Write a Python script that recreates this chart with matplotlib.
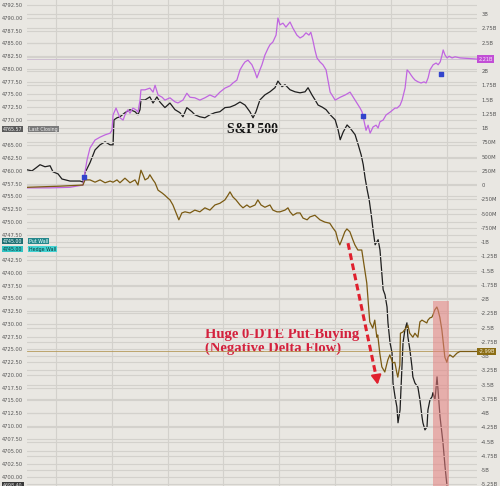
import matplotlib.pyplot as plt
from matplotlib.patches import Rectangle
from matplotlib.ticker import FuncFormatter, MultipleLocator

# time axis: minutes after 9:00 (grid every 30 min)
spx_t = [14.3, 17.0, 19.2, 21.3, 24.0, 26.7, 28.3, 31.0, 33.1, 35.3, 37.4, 40.1, 42.8, 44.4,
         45.5, 48.2, 50.9, 53.6, 56.3, 59.0, 60.6, 61.1, 62.7, 64.3, 67.0, 69.7, 72.4, 74.0,
         75.1, 75.6, 77.8, 80.4, 82.1, 84.2, 85.8, 88.5, 91.2, 93.9, 96.6, 98.2, 100.3, 103.0,
         104.6, 107.3, 110.0, 112.7, 115.4, 118.1, 120.8, 123.5, 126.2, 128.9, 131.6, 134.2,
         135.9, 137.5, 139.6, 142.3, 145.0, 147.7, 149.3, 151.5, 153.1, 155.8, 158.5, 161.2,
         163.9, 165.5, 167.6, 169.3, 170.9, 173.1, 175.2, 177.4, 180.1, 181.7, 182.8, 184.4,
         186.5, 188.1, 190.8, 192.5, 194.1, 195.2, 196.2, 197.3, 198.4, 199.5, 200.5, 201.6,
         203.2, 204.2, 205.3, 205.9, 206.9, 208.0, 208.5, 209.6, 210.7, 211.2, 212.3, 213.3,
         213.9, 215.0, 216.0, 216.6, 217.6, 218.7, 219.2, 220.3, 221.4, 221.9, 223.0, 224.6,
         225.7, 226.8, 227.3, 228.4, 229.5, 230.0, 231.1, 232.2, 232.7, 233.8, 234.9, 235.4,
         236.5, 238.1, 239.2, 240.2]
spx = [4760.2, 4760.0, 4760.6, 4761.2, 4760.8, 4761.0, 4759.8, 4759.4, 4758.4, 4758.2, 4758.0,
       4758.0, 4758.0, 4757.8, 4759.6, 4761.6, 4764.1, 4765.1, 4765.7, 4765.1, 4765.1, 4770.0,
       4770.4, 4770.6, 4771.4, 4772.0, 4771.6, 4771.0, 4772.0, 4773.9, 4773.9, 4774.5, 4773.3,
       4774.5, 4773.5, 4772.4, 4773.3, 4772.0, 4771.4, 4770.6, 4772.4, 4771.6, 4771.0, 4770.6,
       4770.4, 4771.0, 4771.4, 4771.6, 4772.4, 4772.5, 4772.9, 4773.5, 4772.9, 4771.6, 4770.4,
       4771.6, 4773.9, 4774.9, 4775.5, 4776.3, 4777.6, 4776.5, 4776.9, 4775.9, 4775.5, 4775.3,
       4775.5, 4776.3, 4774.9, 4773.9, 4772.9, 4772.5, 4772.0, 4771.0, 4770.0, 4768.0, 4766.1,
       4767.6, 4769.0, 4768.4, 4767.1, 4765.1, 4763.1, 4761.2, 4758.6, 4756.3, 4754.3, 4751.4,
       4748.4, 4745.5, 4746.5, 4744.5, 4739.6, 4736.7, 4735.7, 4733.3, 4730.2, 4726.3, 4724.3,
       4718.4, 4715.7, 4713.7, 4710.6, 4713.1, 4721.6, 4726.3, 4728.8, 4730.2, 4727.5, 4724.9,
       4721.6, 4719.6, 4718.4, 4717.6, 4715.1, 4711.8, 4710.6, 4709.2, 4709.8, 4713.1, 4715.1,
       4715.7, 4716.5, 4715.1, 4719.6, 4717.1, 4711.8, 4706.7, 4702.0, 4698.4]

# call-side flow (purple), billions
call_t = [14.3, 26.7, 37.4, 44.4, 45.5, 46.6, 48.2, 50.9, 53.6, 56.3, 59.0, 60.0, 60.6, 62.2,
          64.3, 66.0, 67.0, 68.6, 69.7, 71.3, 72.9, 74.0, 75.1, 75.6, 77.8, 80.4, 82.1, 83.2,
          84.8, 87.0, 88.5, 91.2, 93.9, 95.5, 98.2, 100.3, 102.0, 104.6, 107.3, 110.0, 112.7,
          115.4, 118.1, 120.8, 123.5, 125.1, 127.2, 128.9, 130.5, 131.6, 133.2, 135.3, 137.0,
          138.0, 139.6, 140.7, 142.3, 144.0, 145.0, 146.6, 148.3, 149.3, 150.4, 152.0, 153.6,
          155.8, 157.4, 159.5, 161.2, 162.8, 164.4, 166.0, 167.0, 168.1, 169.2, 170.3, 171.9,
          173.5, 175.2, 176.2, 177.4, 180.1, 182.8, 185.5, 188.1, 190.8, 193.5, 194.6, 195.7,
          196.7, 197.8, 198.9, 200.5, 202.1, 203.2, 204.2, 205.9, 207.5, 209.7, 211.2, 212.3,
          213.4, 215.0, 216.1, 217.7, 218.8, 219.9, 220.9, 222.0, 223.1, 224.7, 226.3, 227.9,
          229.0, 230.1, 231.1, 232.8, 234.4, 235.5, 236.6, 237.6, 238.2, 239.2, 240.3, 241.4,
          243.0, 244.6, 247.3, 256.4]
calls = [-0.05, -0.05, -0.04, 0.0, 0.23, 0.44, 0.65, 0.79, 0.84, 0.88, 0.91, 0.96, 1.23, 1.35,
         1.18, 1.14, 1.23, 1.32, 1.26, 1.35, 1.32, 1.28, 1.49, 1.67, 1.67, 1.70, 1.63, 1.75,
         1.58, 1.54, 1.49, 1.53, 1.46, 1.44, 1.49, 1.61, 1.54, 1.53, 1.49, 1.53, 1.58, 1.54,
         1.63, 1.70, 1.74, 1.79, 1.84, 2.02, 2.11, 2.16, 2.19, 2.11, 1.98, 1.88, 2.02, 2.11,
         2.28, 2.40, 2.46, 2.51, 2.63, 2.93, 2.81, 2.84, 2.77, 2.86, 2.75, 2.63, 2.58, 2.61,
         2.67, 2.63, 2.68, 2.54, 2.37, 2.23, 2.16, 2.11, 2.02, 1.84, 1.63, 1.49, 1.54, 1.58,
         1.63, 1.49, 1.35, 1.28, 1.11, 0.96, 1.05, 0.91, 1.02, 1.05, 1.00, 1.11, 1.14, 1.23,
         1.28, 1.32, 1.35, 1.35, 1.40, 1.49, 1.70, 2.02, 1.98, 1.93, 1.88, 1.84, 1.81, 1.79,
         1.81, 1.79, 1.88, 2.02, 2.11, 2.14, 2.11, 2.16, 2.28, 2.37, 2.28, 2.23, 2.26, 2.23,
         2.25, 2.23, 2.21]

# net delta flow (brown), billions
delta_t = [14.3, 32.1, 44.4, 45.5, 48.2, 50.9, 53.6, 56.3, 59.0, 60.6, 62.7, 64.3, 67.0, 69.7,
           72.4, 74.0, 75.6, 76.7, 77.8, 79.4, 80.4, 82.1, 83.2, 84.8, 87.0, 88.5, 90.1, 91.2,
           92.8, 93.9, 95.0, 96.0, 97.6, 99.3, 102.0, 104.6, 107.3, 110.0, 112.7, 115.4, 118.1,
           120.8, 122.4, 123.5, 125.1, 126.7, 128.9, 130.5, 132.6, 134.2, 137.0, 138.5, 140.2,
           142.3, 145.0, 146.6, 148.8, 150.4, 153.1, 154.7, 155.8, 157.4, 159.5, 161.2, 162.8,
           165.0, 166.5, 169.2, 171.9, 174.5, 177.2, 178.8, 180.4, 181.5, 182.6, 183.7, 185.3,
           186.4, 188.0, 189.6, 190.7, 192.3, 194.4, 196.0, 197.1, 198.7, 200.3, 201.4, 202.5,
           203.0, 204.1, 205.2, 206.8, 208.4, 209.5, 211.1, 212.2, 213.3, 213.8, 214.9, 215.2,
           216.5, 218.6, 219.2, 220.2, 221.9, 223.0, 224.6, 225.7, 226.8, 228.4, 229.4, 230.0,
           231.1, 232.1, 232.7, 233.7, 234.8, 235.4, 236.4, 237.5, 238.1, 239.1, 240.2, 240.8,
           241.8, 243.5, 245.6, 247.2, 256.4]
delta = [-0.04, -0.02, 0.0, 0.09, 0.09, 0.05, 0.09, 0.04, 0.07, 0.05, 0.09, 0.04, 0.12, 0.04,
         0.09, 0.0, 0.26, 0.18, 0.09, 0.12, 0.18, 0.09, 0.04, -0.09, -0.14, -0.18, -0.23, -0.26,
         -0.35, -0.44, -0.53, -0.61, -0.49, -0.47, -0.49, -0.44, -0.47, -0.40, -0.44, -0.35,
         -0.32, -0.26, -0.18, -0.12, -0.21, -0.26, -0.35, -0.40, -0.35, -0.39, -0.35, -0.26,
         -0.35, -0.39, -0.35, -0.44, -0.47, -0.47, -0.44, -0.40, -0.47, -0.53, -0.49, -0.49,
         -0.58, -0.61, -0.56, -0.53, -0.61, -0.65, -0.67, -0.75, -0.82, -0.96, -1.05, -0.96,
         -0.82, -0.77, -0.82, -0.96, -1.05, -1.14, -1.14, -1.49, -1.72, -2.40, -2.51, -2.37,
         -2.67, -2.63, -2.95, -3.19, -3.28, -3.07, -2.98, -3.12, -3.11, -3.30, -3.37, -3.16,
         -2.60, -2.58, -2.49, -2.46, -2.60, -2.67, -2.60, -2.67, -2.40, -2.37, -2.40, -2.42,
         -2.37, -2.33, -2.32, -2.28, -2.19, -2.14, -2.19, -2.32, -2.54, -2.72, -3.02, -3.11,
         -3.02, -2.98, -3.02, -2.95, -2.92, -2.92]
delta_last = -2.99

# blue event markers on the call line
event_t = [44.9, 195.1, 237.1]
event_v = [0.14, 1.21, 1.95]

last_close = 4765.57
put_wall = 4745.00
hedge_wall = 4745.00
span_t = (232.7, 241.4)
span_top = -2.04

bg = '#e9e7e2'
grid_c = '#d3d1cc'
Y2 = (-5.28, 3.246)

fig = plt.figure(figsize=(5.0, 4.86), dpi=100, facecolor=bg)
ax = fig.add_axes([0.054, 0.0, 0.9, 1.0], facecolor=bg)
ax2 = ax.twinx()

ax.set_xlim(14.3, 256.4)
ax.set_ylim(4698.2, 4793.5)
ax2.set_ylim(*Y2)

ax.xaxis.set_major_locator(MultipleLocator(30))
ax.yaxis.set_major_locator(MultipleLocator(2.5))
ax2.yaxis.set_major_locator(MultipleLocator(0.25))
ax.grid(True, color=grid_c, lw=0.8)
ax2.grid(True, axis='y', color=grid_c, lw=0.8)
ax.set_xticklabels([])
ax.tick_params(axis='x', length=0)
ax.tick_params(axis='y', length=0, pad=3, labelsize=3.7, labelcolor='#555555')
ax2.tick_params(axis='y', length=0, pad=3, labelsize=3.8, labelcolor='#555555')


def fmt_px(v, p):
    # tick labels hidden under the price tags
    if abs(v - 4745) < 0.01 or abs(v - 4767.5) < 0.01:
        return ''
    return '%.2f' % v


def fmt_bn(v, p):
    if abs(v - 2.25) < 1e-6:
        return ''
    if abs(v) < 1e-9:
        return '0'
    if abs(v) < 1:
        return '%dM' % round(v * 1000)
    return ('%.2f' % v).rstrip('0').rstrip('.') + 'B'


ax.yaxis.set_major_formatter(FuncFormatter(fmt_px))
ax2.yaxis.set_major_formatter(FuncFormatter(fmt_bn))
for a in (ax, ax2):
    for s in a.spines.values():
        s.set_visible(False)

ax.plot(spx_t, spx, color='#1e1e1e', lw=0.9, zorder=3)
ax2.plot(call_t, calls, color='#c065e0', lw=0.9, zorder=3)
ax2.plot(delta_t, delta, color='#7a5a12', lw=0.9, zorder=3)
ax2.axhline(delta[-1], color='#b59a5a', lw=0.6, zorder=2)
ax2.axhline(calls[-1], color='#c9b8cf', lw=0.6, zorder=2)
ax2.scatter(event_t, event_v, marker='s', s=9, color='#3344cc', zorder=4)

# shaded put-buying window, drawn over the lines
ax2.add_patch(Rectangle((span_t[0], Y2[0]), span_t[1] - span_t[0], span_top - Y2[0],
                        facecolor='#e57f7f', alpha=0.55, lw=0, zorder=5))

# dashed red arrow
arr_t = [187.0, 202.4]
arr_v = [-1.02, -3.40]
ax2.plot(arr_t, arr_v, color='#e0202e', lw=2.2, ls=(0, (2.2, 1.2)), zorder=6)
ax2.annotate('', xy=(203.2, -3.55), xytext=(202.0, -3.30),
             arrowprops=dict(arrowstyle='-|>,head_width=0.3,head_length=0.55',
                             color='#e0202e', lw=1.5), zorder=6)

ax.text(0.502, 0.733, 'S&P 500', transform=ax.transAxes, ha='center', va='center',
        family='Liberation Serif', weight='bold', fontsize=10, color='#111111', zorder=7)
ax.text(0.396, 0.298, 'Huge 0-DTE Put-Buying\n(Negative Delta Flow)', transform=ax.transAxes,
        ha='left', va='center', family='Liberation Serif', weight='bold', fontsize=10.5,
        color='#d4213d', linespacing=1.05, zorder=7)


# price tags on the left
def left_tag(y, val, name, c1, c2, tc):
    yf = 1 - y / 486
    fig.text(0.006, yf, '%.2f' % val, fontsize=3.4, color=tc, va='center', ha='left',
             bbox=dict(boxstyle='square,pad=0.2', fc=c1, ec='none'))
    fig.text(0.058, yf, name, fontsize=3.4, color=tc, va='center', ha='left',
             bbox=dict(boxstyle='square,pad=0.2', fc=c2, ec='none'))


left_tag(129, last_close, 'Last Closing', '#5a5a5a', '#7a7a7a', '#eeeeee')
left_tag(241, put_wall, 'Put Wall', '#1f6e72', '#26888c', '#e8ffff')
left_tag(249, hedge_wall, 'Hedge Wall', '#33c4c4', '#44d2d2', '#0d3a3a')
fig.text(0.006, 1 - 485 / 486, '%.2f' % spx[-1], fontsize=3.4, color='#dddddd', va='center',
         bbox=dict(boxstyle='square,pad=0.2', fc='#3a3a3a', ec='none'))

# right tags for the two flow lines
for v, txt, fc, tc in [(calls[-1], calls[-1], '#c24fd6', '#f5e8f8'),
                       (delta[-1], delta_last, '#8b6d15', '#f5eed8')]:
    ax2.text(1.003, (v - Y2[0]) / (Y2[1] - Y2[0]), '%.2fB' % txt, transform=ax2.transAxes,
             fontsize=3.6, color=tc, va='center', ha='left', zorder=8, clip_on=False,
             bbox=dict(boxstyle='square,pad=0.25', fc=fc, ec='none'))

fig.savefig('out.png', dpi=100, facecolor=bg)
